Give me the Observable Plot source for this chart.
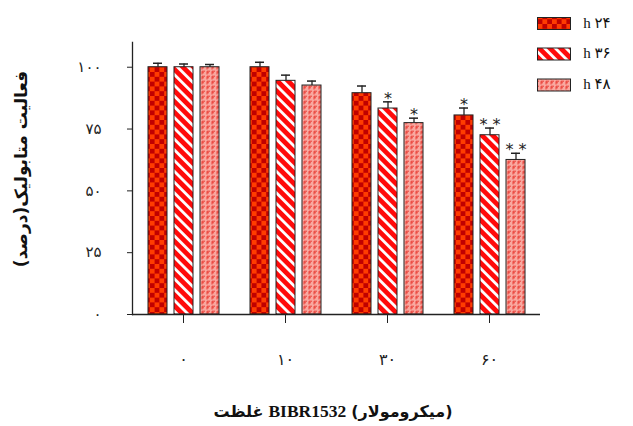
<!DOCTYPE html>
<html>
<head>
<meta charset="utf-8">
<script src="https://cdn.jsdelivr.net/npm/d3@7"></script>
<script src="https://cdn.jsdelivr.net/npm/@observablehq/plot@0.6"></script>
<style>
  html, body { margin: 0; padding: 0; background: #fff; }
  #chart { position: relative; width: 633px; height: 426px; }
  svg { font-family: "Liberation Serif", "DejaVu Sans", serif; }
</style>
</head>
<body>
<div id="chart"></div>
<script>
// ---- data ----
const concentrations = ["۰", "۱۰", "۳۰", "۶۰"];      // µM
const seriesNames = ["۲۴", "۳۶", "۴۸"];               // hours
const values24 = [100, 100, 89.5, 80.5];
const values36 = [100, 94.5, 83.3, 72.5];
const values48 = [100, 92.6, 77.4, 62.5];
const err24 = [1.6, 2.0, 2.9, 3.0];
const err36 = [1.3, 2.3, 2.7, 2.9];
const err48 = [1.1, 1.8, 2.0, 2.7];
const stars24 = ["", "", "", "*"];
const stars36 = ["", "", "*", "* *"];
const stars48 = ["", "", "*", "* *"];
const yTicks = [0, 25, 50, 75, 100];
const yTickLabels = ["۰", "۲۵", "۵۰", "۷۵", "۱۰۰"];
const yTitle = "فعالیت متابولیک(درصد)";
const xTitleParts = ["غلظت", "BIBR1532", "(میکرومولار)"];
const legendLabels = ["h ۲۴", "h ۳۶", "h ۴۸"];

const patternIds = ["p24", "p36", "p48"];
const allValues = [values24, values36, values48];
const allErr = [err24, err36, err48];
const allStars = [stars24, stars36, stars48];

const rows = [];
concentrations.forEach((c, i) => {
  seriesNames.forEach((s, j) => {
    rows.push({
      conc: c, series: s,
      value: allValues[j][i],
      top: allValues[j][i] + allErr[j][i],
      star: allStars[j][i],
      fill: `url(#${patternIds[j]})`
    });
  });
});

const ink = "#222";

const plot = Plot.plot({
  width: 633,
  height: 426,
  marginLeft: 131,
  marginRight: 92,
  marginTop: 42,
  marginBottom: 112,
  style: { fontFamily: "'Liberation Serif', 'DejaVu Sans', serif", background: "white" },
  fx: { domain: concentrations, padding: 0, label: null },
  x: { domain: seriesNames, paddingInner: 0.283, paddingOuter: 0.575, axis: null },
  y: { domain: [0, 110], axis: null },
  color: { type: "identity" },
  marks: [
    Plot.barY(rows, { fx: "conc", x: "series", y: "value", fill: "fill", stroke: ink, strokeWidth: 1 }),
    Plot.ruleX(rows, { fx: "conc", x: "series", y1: "value", y2: "top", stroke: ink, strokeWidth: 1.3 }),
    Plot.tickY(rows, { fx: "conc", x: "series", y: "top", stroke: ink, strokeWidth: 1.5, insetLeft: 5, insetRight: 5 }),
    Plot.text(rows, { fx: "conc", x: "series", y: "top", text: "star", dy: 2, lineAnchor: "bottom", fontSize: 16, fontFamily: "'DejaVu Sans', sans-serif", fill: ink }),
    Plot.ruleY([0], { stroke: ink, strokeWidth: 1.3 }),
    Plot.frame({ anchor: "left", facetAnchor: "left", stroke: ink, strokeWidth: 1.3 }),
    Plot.axisY(yTicks, {
      anchor: "left",
      tickSize: 5,
      tickPadding: 26,
      tickFormat: d => yTickLabels[yTicks.indexOf(d)],
      fontSize: 15,
      fontFamily: "'DejaVu Sans', sans-serif",
      stroke: ink,
      color: ink,
      label: null
    }),
    Plot.axisFx({
      anchor: "bottom",
      tickSize: 9,
      tickPadding: 30,
      fontSize: 16,
      fontFamily: "'DejaVu Sans', sans-serif",
      stroke: ink,
      color: ink,
      label: null
    })
  ]
});

document.getElementById("chart").appendChild(plot);
const svg = d3.select(plot);

// pattern definitions
const defs = svg.insert("defs", ":first-child");
// checkerboard
const p1 = defs.append("pattern").attr("id", "p24").attr("patternUnits", "userSpaceOnUse")
  .attr("width", 9.6).attr("height", 9.6);
p1.append("rect").attr("width", 9.6).attr("height", 9.6).attr("fill", "#ff3c00");
p1.append("rect").attr("width", 4.8).attr("height", 4.8).attr("fill", "#c00000");
p1.append("rect").attr("x", 4.8).attr("y", 4.8).attr("width", 4.8).attr("height", 4.8).attr("fill", "#c00000");
// diagonal stripes, running top-left to bottom-right
const p2 = defs.append("pattern").attr("id", "p36").attr("patternUnits", "userSpaceOnUse")
  .attr("width", 7.6).attr("height", 7.6).attr("patternTransform", "rotate(-45)");
p2.append("rect").attr("width", 7.6).attr("height", 7.6).attr("fill", "#ff0a0a");
p2.append("rect").attr("width", 2.8).attr("height", 7.6).attr("fill", "#ffffff");
// light pink with small red marks
const p3 = defs.append("pattern").attr("id", "p48").attr("patternUnits", "userSpaceOnUse")
  .attr("width", 5).attr("height", 5);
p3.append("rect").attr("width", 5).attr("height", 5).attr("fill", "#f9a8a0");
p3.append("path").attr("d", "M1,4.5 V1.2 H4 M1,2.8 H3").attr("stroke", "#e8342c").attr("stroke-width", 0.9).attr("fill", "none");

// y title
svg.append("text")
  .attr("transform", "translate(27,169) rotate(-90)")
  .attr("text-anchor", "middle")
  .attr("direction", "rtl")
  .attr("font-family", "'DejaVu Sans', sans-serif")
  .attr("font-weight", "bold")
  .attr("font-size", 17)
  .attr("fill", "#111")
  .text(yTitle);

// x title: three pieces laid out left to right, centred as a whole
const xt = svg.append("g").attr("font-weight", "bold").attr("fill", "#111");
const pieceFonts = [
  ["'DejaVu Sans', sans-serif", 16],
  ["'Liberation Serif', serif", 17.5],
  ["'DejaVu Sans', sans-serif", 16]
];
const pieces = xTitleParts.map((t, k) =>
  xt.append("text").attr("y", 417).attr("text-anchor", "start").attr("direction", "ltr")
    .attr("font-family", pieceFonts[k][0]).attr("font-size", pieceFonts[k][1]).text(t));
const gap = 5;
const widths = pieces.map(p => p.node().getComputedTextLength());
const total = widths.reduce((a, b) => a + b, 0) + gap * (pieces.length - 1);
let cx = 333 - total / 2;
pieces.forEach((p, k) => { p.attr("x", cx); cx += widths[k] + gap; });

// legend
const legendY = [23.5, 54, 85];
const lg = svg.append("g");
patternIds.forEach((id, j) => {
  lg.append("rect")
    .attr("x", 537.5).attr("y", legendY[j] - 6).attr("width", 33).attr("height", 12)
    .attr("fill", `url(#${id})`).attr("stroke", ink).attr("stroke-width", 1);
  lg.append("text")
    .attr("x", 597).attr("y", legendY[j] + 4)
    .attr("font-size", 15)
    .attr("fill", "#111")
    .text(legendLabels[j]);
});
</script>
</body>
</html>
